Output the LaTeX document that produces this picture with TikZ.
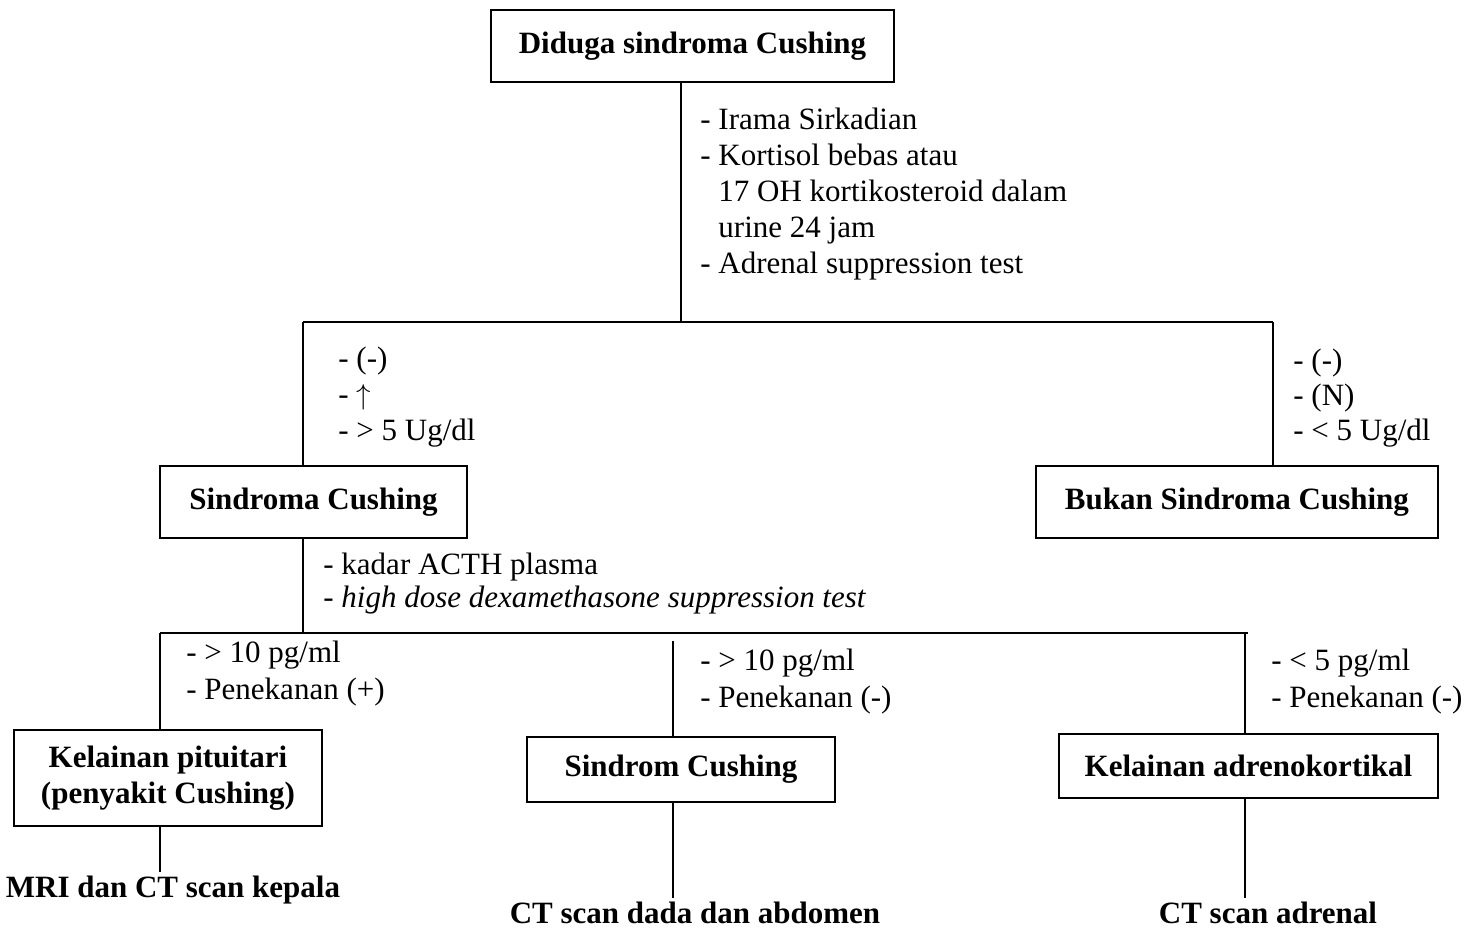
\documentclass[tikz,border=0pt]{standalone}
\usepackage{fontspec}
\setmainfont{Liberation Serif}

\begin{document}
\begin{tikzpicture}[x=0.5pt,y=-0.5pt,
    cbox/.style={draw,line width=1.2pt,align=center,inner sep=0pt,font=\bfseries\fontsize{15.5pt}{18pt}\selectfont},
    ttl/.style={inner sep=2pt,font=\bfseries\fontsize{15.5pt}{18pt}\selectfont},
    lbl/.style={anchor=west,align=left,inner sep=0pt,font=\fontsize{15.5pt}{#1}\selectfont},
    ln/.style={line width=0.9pt},
    hl/.style={line width=1.3pt}]
  \useasboundingbox (0,0) rectangle (1484,928);
  % boxes
  \node[cbox,minimum width=201.5pt,minimum height=36pt] (dcs) at (692.5,46) {Diduga sindroma Cushing};
  \node[cbox,minimum width=153.5pt,minimum height=36pt] (sc) at (313.5,502) {Sindroma Cushing};
  \node[cbox,minimum width=201pt,minimum height=36pt] (bsc) at (1237,502) {Bukan Sindroma Cushing};
  \node[cbox,minimum width=154pt,minimum height=48pt] (kp) at (168,778) {Kelainan pituitari\\(penyakit Cushing)};
  \node[cbox,minimum width=154pt,minimum height=32.5pt] (scm) at (681,769.5) {Sindrom Cushing};
  \node[cbox,minimum width=189.5pt,minimum height=32pt] (ka) at (1248.5,766) {Kelainan adrenokortikal};
  % end texts
  \node[ttl] (mri) at (173,890) {MRI dan CT scan kepala};
  \node[ttl] (ctd) at (695,913) {CT scan dada dan abdomen};
  \node[ttl] (cta) at (1268,913) {CT scan adrenal};
  % labels
  \node[lbl=18pt] (tes1) at (700,194.5) {- Irama Sirkadian\\- Kortisol bebas atau\\\hphantom{-}\ 17 OH kortikosteroid dalam\\\hphantom{-}\ urine 24 jam\\- Adrenal suppression test};
  \node[lbl=18pt] (pos) at (338,397) {- (-)\\- $\uparrow$\\- > 5 Ug/dl};
  \node[lbl=17.5pt] (neg) at (1293,398) {- (-)\\- (N)\\- < 5 Ug/dl};
  \node[lbl=16.5pt] (tes2) at (323,584) {- kadar ACTH plasma\\- \textit{high dose dexamethasone suppression test}};
  \node[lbl=18.5pt] (ra) at (186,673.5) {- > 10 pg/ml\\- Penekanan (+)};
  \node[lbl=18.5pt] (rb) at (700,681.5) {- > 10 pg/ml\\- Penekanan (-)};
  \node[lbl=18.5pt] (rc) at (1271,681.5) {- < 5 pg/ml\\- Penekanan (-)};
  % junctions
  \coordinate (j1) at (681,322);
  \coordinate (j1l) at (303,322);
  \coordinate (j1r) at (1273,322);
  \coordinate (j2) at (303,633);
  \coordinate (j2l) at (160,633);
  \coordinate (j2r) at (1248,633);
  \coordinate (j2m) at (673,641);
  \coordinate (j2a) at (1245,633);
  % lines
  \draw[ln] (dcs.south -| j1) -- (j1);
  \draw[hl] (j1l) -- (j1r);
  \draw[ln] (j1l) -- (j1l |- sc.north);
  \draw[ln] (j1r) -- (j1r |- bsc.north);
  \draw[ln] (sc.south -| j2) -- (j2);
  \draw[hl] (j2l) -- (j2r);
  \draw[ln] (j2l) -- (j2l |- kp.north);
  \draw[ln] (j2m) -- (j2m |- scm.north);
  \draw[ln] (j2a) -- (j2a |- ka.north);
  \draw[ln] (kp.south -| j2l) -- (j2l |- mri.north);
  \draw[ln] (scm.south -| j2m) -- (j2m |- ctd.north);
  \draw[ln] (ka.south -| j2a) -- (j2a |- cta.north);
\end{tikzpicture}
\end{document}
